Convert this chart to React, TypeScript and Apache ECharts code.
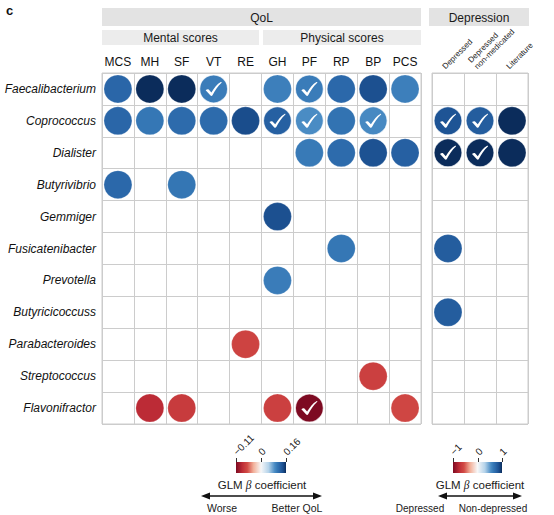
import React, { useEffect, useRef } from 'react';
import * as echarts from 'echarts';

// ---------- data ----------
const species = [
  'Faecalibacterium', 'Coprococcus', 'Dialister', 'Butyrivibrio', 'Gemmiger',
  'Fusicatenibacter', 'Prevotella', 'Butyricicoccuss', 'Parabacteroides',
  'Streptococcus', 'Flavonifractor',
];
const qolCols = ['MCS', 'MH', 'SF', 'VT', 'RE', 'GH', 'PF', 'RP', 'BP', 'PCS'];
const depCols = ['Depressed', 'Depressed\nnon-medicated', 'Literature'];

// GLM beta coefficients, rows = species, cols = qolCols (null = not associated)
const qolBeta: (number | null)[][] = [
  [0.12, 0.16, 0.16, 0.1, null, 0.098, 0.1, 0.118, 0.14, 0.098],
  [0.12, 0.104, 0.115, 0.115, 0.142, 0.125, 0.088, 0.108, 0.09, null],
  [null, null, null, null, null, null, 0.102, 0.115, 0.138, 0.125],
  [0.118, null, 0.105, null, null, null, null, null, null, null],
  [null, null, null, null, null, 0.14, null, null, null, null],
  [null, null, null, null, null, null, null, 0.104, null, null],
  [null, null, null, null, null, 0.1, null, null, null, null],
  [null, null, null, null, null, null, null, null, null, null],
  [null, null, null, null, -0.066, null, null, null, null, null],
  [null, null, null, null, null, null, null, null, -0.068, null],
  [null, -0.083, -0.072, null, null, -0.068, -0.11, null, null, -0.064],
];
// significant cells [row, col]
const qolSignificant = [[0, 3], [0, 6], [1, 5], [1, 6], [1, 8], [10, 6]];

const depBeta: (number | null)[][] = [
  [null, null, null],
  [0.85, 0.8, 1],
  [1, 1, 1],
  [null, null, null],
  [null, null, null],
  [0.8, null, null],
  [null, null, null],
  [0.8, null, null],
  [null, null, null],
  [null, null, null],
  [null, null, null],
];
const depSignificant = [[1, 0], [1, 1], [2, 0], [2, 1]];

const qolRange = [-0.11, 0.16];
const depRange = [-1, 1];
const qolTicks = [-0.11, 0, 0.16];
const qolTickLabels = ['\u22120.11', '0', '0.16'];
const depTicks = [-1, 0, 1];
const depTickLabels = ['\u22121', '0', '1'];

// ---------- colour scale ----------
const FONT = '"Liberation Sans", Arial, Helvetica, sans-serif';
const blueStops: [number, string][] = [
  [0, '#f7f7f7'], [0.3, '#b5d3ea'], [0.55, '#4a8cc4'], [0.65, '#3577b5'],
  [0.75, '#2a66a8'], [0.88, '#1b4f8f'], [1, '#0b2c5b'],
];
const redStops: [number, string][] = [
  [0, '#f7f7f7'], [0.3, '#f2b09a'], [0.55, '#d24b45'], [0.75, '#bd2c36'], [1, '#7d0a22'],
];
function hex(c: string) {
  return [parseInt(c.slice(1, 3), 16), parseInt(c.slice(3, 5), 16), parseInt(c.slice(5, 7), 16)];
}
function ramp(stops: [number, string][], t: number) {
  t = Math.max(0, Math.min(1, t));
  for (let i = 1; i < stops.length; i++) {
    if (t <= stops[i][0]) {
      const [t0, c0] = stops[i - 1];
      const [t1, c1] = stops[i];
      const f = (t - t0) / (t1 - t0);
      const a = hex(c0), b = hex(c1);
      const m = a.map((x, k) => Math.round(x + (b[k] - x) * f));
      return `rgb(${m[0]},${m[1]},${m[2]})`;
    }
  }
  return stops[stops.length - 1][1];
}
function scaleColor(v: number, range: number[]) {
  return v >= 0 ? ramp(blueStops, v / range[1]) : ramp(redStops, v / range[0]);
}
function scalePos(v: number, range: number[]) {
  return v >= 0 ? 0.5 + 0.5 * v / range[1] : 0.5 - 0.5 * v / range[0];
}
function gradientStops(range: number[]) {
  const out: { offset: number; color: string }[] = [];
  for (let i = 0; i <= 40; i++) {
    const p = i / 40;
    const v = p < 0.5 ? range[0] * (0.5 - p) / 0.5 : range[1] * (p - 0.5) / 0.5;
    out.push({ offset: p, color: scaleColor(v, range) });
  }
  return out;
}

const CHECK =
  'path://M8,55 C14,50 20,48 25,51 L40,68 C55,42 72,20 92,8 C96,6 99,10 95,13 C76,31 60,55 46,84 C44,89 38,90 35,86 Z';

function buildPoints(matrix: (number | null)[][], range: number[], sig: number[][]) {
  const pts: any[] = [];
  matrix.forEach((row, r) =>
    row.forEach((v, c) => {
      if (v == null) return;
      const isSig = sig.some(([sr, sc]) => sr === r && sc === c);
      pts.push({
        value: [c, r, v],
        itemStyle: {
          color: scaleColor(v, range),
          opacity: 1,
          borderColor: isSig ? 'rgba(255,255,255,0.7)' : 'rgba(255,255,255,0.25)',
          borderWidth: isSig ? 1.2 : 0.8,
        },
      });
    })
  );
  const checks = sig.map(([r, c]) => [c, r]);
  return { pts, checks };
}

// ---------- layout ----------
const G0 = { left: 102, top: 73, width: 319, height: 351 };
const G1 = { left: 432, top: 73, width: 96, height: 351 };
const GRID_LINE = '#cccccc';

function txt(x: number, y: number, text: string, fontSize: number, align = 'center', extra: any = {}) {
  return {
    type: 'text', x, y, ...extra,
    style: {
      text, fontSize, fontFamily: FONT, fill: '#1a1a1a',
      align, verticalAlign: extra.vAlign || 'middle', textAlign: align, textVerticalAlign: extra.vAlign || 'middle',
      ...(extra.style || {}),
    },
  };
}

function legend(barX: number, barW: number, range: number[], ticks: number[], labels: string[],
  arrowL: number, arrowR: number, textCx: number, leftText: string, leftCx: number,
  rightText: string, rightCx: number, bottomFont: number) {
  const els: any[] = [];
  const barY = 462, barH = 11;
  els.push({
    type: 'rect', shape: { x: barX, y: barY, width: barW, height: barH },
    style: { fill: new echarts.graphic.LinearGradient(0, 0, 1, 0, gradientStops(range)) },
  });
  ticks.forEach((t, i) => {
    const x = Math.round(barX + scalePos(t, range) * barW) + 0.5;
    els.push({ type: 'line', shape: { x1: x, y1: barY - 4, x2: x, y2: barY }, style: { stroke: '#333', lineWidth: 1 } });
    els.push({
      type: 'text', x: x + 2, y: barY - 5, rotation: Math.PI / 4,
      style: {
        text: labels[i], fontSize: 10, fontFamily: FONT, fill: '#222',
        align: 'left', verticalAlign: 'bottom', textAlign: 'left', textVerticalAlign: 'bottom',
      },
    });
  });
  els.push({
    type: 'text', x: textCx, y: 485,
    style: {
      text: '{a|GLM }{b|\u03b2}{a| coefficient}',
      rich: {
        a: { fontSize: 11.5, fontFamily: FONT, fill: '#1a1a1a' },
        b: { fontSize: 11.5, fontFamily: '"Liberation Serif", serif', fontStyle: 'italic', fill: '#1a1a1a' },
      },
      align: 'center', verticalAlign: 'middle', textAlign: 'center', textVerticalAlign: 'middle',
    },
  });
  const ay = 496;
  els.push({ type: 'line', shape: { x1: arrowL + 4, y1: ay, x2: arrowR - 4, y2: ay }, style: { stroke: '#111', lineWidth: 1.5 } });
  els.push({ type: 'polygon', shape: { points: [[arrowL, ay], [arrowL + 9, ay - 3.5], [arrowL + 9, ay + 3.5]] }, style: { fill: '#111' } });
  els.push({ type: 'polygon', shape: { points: [[arrowR, ay], [arrowR - 9, ay - 3.5], [arrowR - 9, ay + 3.5]] }, style: { fill: '#111' } });
  els.push(txt(leftCx, 508, leftText, bottomFont));
  els.push(txt(rightCx, 508, rightText, bottomFont));
  return els;
}

function header(x: number, y: number, w: number, h: number, fill: string, text: string) {
  return [
    { type: 'rect', shape: { x, y, width: w, height: h }, style: { fill } },
    txt(x + w / 2, y + h / 2 + 0.5, text, 12),
  ];
}

export default function App() {
  const ref = useRef<HTMLDivElement>(null);
  useEffect(() => {
    if (!ref.current) return;
    const chart = echarts.init(ref.current, undefined, { renderer: 'svg' });
    const q = buildPoints(qolBeta, qolRange, qolSignificant);
    const d = buildPoints(depBeta, depRange, depSignificant);

    const splitLine = { show: true, interval: 0, lineStyle: { color: GRID_LINE, width: 1 } };
    const gridCommon = { show: true, borderColor: GRID_LINE, borderWidth: 1, backgroundColor: '#ffffff' };

    const depColW = G1.width / depCols.length;
    const depLabels = depCols.map((name, i) => ({
      type: 'text', x: G1.left + (i + 0.5) * depColW - 1, y: G1.top - 2, rotation: Math.PI / 4,
      style: {
        text: name, fontSize: 8, lineHeight: 9, fontFamily: FONT, fill: '#222',
        align: 'left', verticalAlign: 'bottom', textAlign: 'left', textVerticalAlign: 'bottom',
      },
    }));

    const graphic: any[] = [
      txt(6, 10, 'c', 13, 'left', { style: { fontWeight: 'bold', fill: '#111' } }),
      ...header(102, 8, 319, 18, '#e3e3e3', 'QoL'),
      ...header(102, 30, 157, 15, '#ececec', 'Mental scores'),
      ...header(263, 30, 158, 15, '#ececec', 'Physical scores'),
      ...header(429, 8, 100, 18, '#e3e3e3', 'Depression'),
      ...depLabels,
      ...legend(236, 50, qolRange, qolTicks, qolTickLabels, 201, 322, 262, 'Worse', 222, 'Better QoL', 297, 10.5),
      ...legend(453, 49, depRange, depTicks, depTickLabels, 438, 522, 480, 'Depressed', 420, 'Non-depressed', 493, 10),
    ];

    chart.setOption({
      animation: false,
      textStyle: { fontFamily: FONT },
      grid: [
        { ...G0, ...gridCommon },
        { ...G1, ...gridCommon },
      ],
      xAxis: [
        {
          gridIndex: 0, type: 'category', data: qolCols, position: 'top',
          axisLine: { show: false }, axisTick: { show: false },
          axisLabel: { fontSize: 12, color: '#111', margin: 5, interval: 0 },
          splitLine,
        },
        {
          gridIndex: 1, type: 'category', data: depCols, position: 'top',
          axisLine: { show: false }, axisTick: { show: false },
          axisLabel: { show: false },
          splitLine,
        },
      ],
      yAxis: [
        {
          gridIndex: 0, type: 'category', data: species, inverse: true,
          axisLine: { show: false }, axisTick: { show: false },
          axisLabel: { fontSize: 12, fontStyle: 'italic', color: '#111', margin: 6, interval: 0 },
          splitLine,
        },
        {
          gridIndex: 1, type: 'category', data: species, inverse: true,
          axisLine: { show: false }, axisTick: { show: false },
          axisLabel: { show: false },
          splitLine,
        },
      ],
      series: [
        { type: 'scatter', xAxisIndex: 0, yAxisIndex: 0, symbol: 'circle', symbolSize: 28, data: q.pts, z: 3 },
        { type: 'scatter', xAxisIndex: 1, yAxisIndex: 1, symbol: 'circle', symbolSize: 28, data: d.pts, z: 3 },
        { type: 'scatter', xAxisIndex: 0, yAxisIndex: 0, symbol: CHECK, symbolSize: [16, 14], itemStyle: { color: '#ffffff', opacity: 1 }, data: q.checks, z: 4, silent: true },
        { type: 'scatter', xAxisIndex: 1, yAxisIndex: 1, symbol: CHECK, symbolSize: [16, 14], itemStyle: { color: '#ffffff', opacity: 1 }, data: d.checks, z: 4, silent: true },
      ],
      graphic,
    });
    return () => chart.dispose();
  }, []);
  return <div ref={ref} style={{ width: 554, height: 515, position: 'absolute', left: 0, top: 0, background: '#fff' }} />;
}
